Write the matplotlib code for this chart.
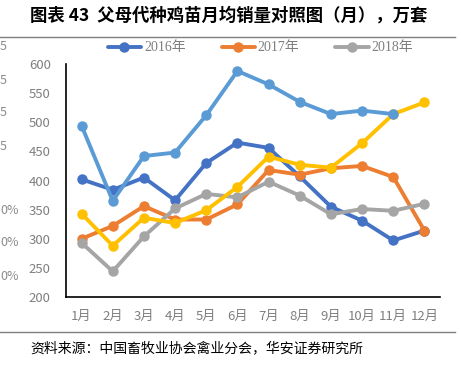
import matplotlib.pyplot as plt
import numpy as np

plt.rcParams['font.family'] = ['Noto Sans CJK SC', 'DejaVu Sans']

months = ['1月', '2月', '3月', '4月', '5月', '6月', '7月', '8月', '9月', '10月', '11月', '12月']
sales_2016 = [402, 384, 405, 366, 430, 465, 456, 407, 355, 331, 297, 314]
sales_2017 = [300, 322, 356, 333, 333, 359, 418, 410, 421, 425, 406, 314]
sales_2018 = [293, 244, 304, 352, 377, 371, 398, 374, 342, 351, 348, 360]
# two more lines without legend entries
extra_yellow = [343, 288, 336, 327, 349, 389, 441, 427, 422, 464, 514, 534]
extra_blue = [494, 365, 442, 448, 512, 588, 565, 535, 514, 520, 514, np.nan]

yticks = [200, 250, 300, 350, 400, 450, 500, 550, 600]


def main():
    W, H = 461, 365
    fig = plt.figure(figsize=(W / 100, H / 100), dpi=100)

    # 标题和分隔线
    fig.text(30 / W, 1 - 16 / H, '图表 43  父母代种鸡苗月均销量对照图（月），万套',
             fontsize=12.5, fontweight='semibold', va='center', ha='left')
    fig.add_artist(plt.Line2D([0, 455 / W], [1 - 37 / H] * 2, color='#7f7f7f', lw=1))
    fig.add_artist(plt.Line2D([0, 455 / W], [1 - 332 / H] * 2, color='#7f7f7f', lw=1))
    fig.text(30 / W, 1 - 348 / H, '资料来源：中国畜牧业协会禽业分会，华安证券研究所',
             fontsize=10, va='center', ha='left')

    # 左侧残留的刻度
    for yp in [47, 80, 113, 146]:
        fig.text(0, 1 - yp / H, '5', fontsize=9, color='#8c8c8c', va='center', ha='left')
    for yp in [210, 243, 276]:
        fig.text(0, 1 - yp / H, '0%', fontsize=9, color='#8c8c8c', va='center', ha='left')

    ax = fig.add_axes([66 / W, 68 / H, (440 - 66) / W, (297 - 64) / H])
    x = np.arange(len(months))
    kw = dict(lw=2.8, marker='o', ms=6.5, solid_capstyle='round')
    ax.plot(x, sales_2016, color='#4472C4', label='2016年', **kw)
    ax.plot(x, sales_2017, color='#ED7D31', label='2017年', **kw)
    ax.plot(x, sales_2018, color='#A5A5A5', label='2018年', **kw)
    ax.plot(x, extra_yellow, color='#FFC000', **kw)
    ax.plot(x, extra_blue, color='#5B9BD5', **kw)

    ax.set_xlim(-0.5, 11.5)
    ax.set_ylim(200, 600)
    ax.set_yticks(yticks)
    ax.set_xticks(x)
    ax.set_xticklabels(months)
    ax.tick_params(length=0, labelsize=9.5, labelcolor='#7f7f7f')
    ax.tick_params(axis='y', pad=11)
    ax.tick_params(axis='x', pad=9)
    for s in ['top', 'right']:
        ax.spines[s].set_visible(False)
    for s in ['left', 'bottom']:
        ax.spines[s].set_color('black')
        ax.spines[s].set_linewidth(1.2)

    leg = ax.legend(loc='center', bbox_to_anchor=(0.52, (1 - 48 / H - 68 / H) / ((297 - 64) / H)),
                    ncol=3, frameon=False, handlelength=2.4, columnspacing=2.6,
                    handletextpad=0.2, prop={'family': ['Liberation Serif', 'Noto Sans CJK SC'], 'size': 10})
    for t in leg.get_texts():
        t.set_color('#7f7f7f')

    fig.savefig('out.png', dpi=100)


if __name__ == '__main__':
    main()
